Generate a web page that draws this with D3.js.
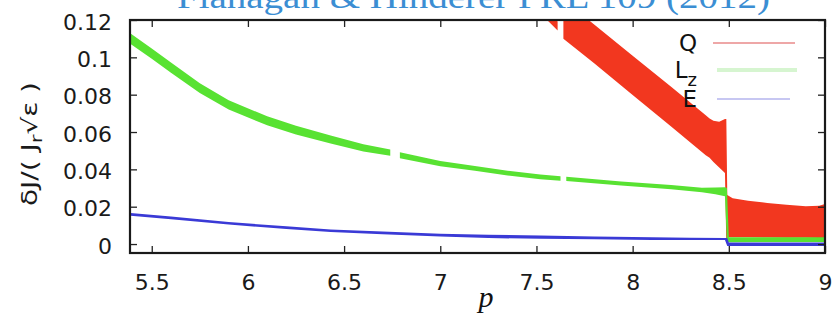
<!DOCTYPE html>
<html><head><meta charset="utf-8">
<script src="https://cdn.jsdelivr.net/npm/d3@7"></script>
<style>html,body{margin:0;padding:0;background:#fff;} svg{display:block}</style>
</head><body><svg id="c" width="836" height="320"></svg>
<script>
// ---- data ----
const xTicks = [5.5, 6, 6.5, 7, 7.5, 8, 8.5, 9];
const xTickLabels = ["5.5", "6", "6.5", "7", "7.5", "8", "8.5", "9"];
const yTicks = [0, 0.02, 0.04, 0.06, 0.08, 0.1, 0.12];
const yTickLabels = ["0", "0.02", "0.04", "0.06", "0.08", "0.1", "0.12"];
const seriesNames = ["Q", "L", "E"];
const titleText = "Flanagan & Hinderer PRL 109 (2012)";

// Q: envelope (upper / lower) of the oscillating curve
const qP  = [7.550, 7.575, 7.610, 7.620, 7.640, 7.800, 8.000, 8.200, 8.380, 8.400, 8.420, 8.450, 8.480, 8.487, 8.492, 8.520, 8.600, 8.700, 8.800, 8.900, 8.970, 9.000];
const qHi = [0.130, 0.130, 0.119, null, 0.131, 0.1176, 0.1009, 0.0842, 0.0690, 0.0672, 0.0660, 0.0655, 0.0670, 0.0670, 0.0262, 0.0245, 0.0232, 0.0220, 0.0210, 0.0203, 0.0205, 0.0215];
const qLo = [0.1205, 0.1180, 0.1144, null, 0.1100, 0.0968, 0.0798, 0.0629, 0.0476, 0.0462, 0.0440, 0.0410, 0.0380, 0.0000, 0.0037, 0.0037, 0.0036, 0.0035, 0.0034, 0.0034, 0.0033, 0.0033];

// Lz envelope
const lzP  = [5.39, 5.50, 5.60, 5.75, 5.90, 6.10, 6.25, 6.43, 6.60, 6.74, 6.765, 6.79, 7.00, 7.18, 7.35, 7.52, 7.625, 7.64, 7.655, 7.94, 8.20, 8.36, 8.43, 8.48, 8.490, 8.500, 8.700, 9.000];
const lzHi = [0.1128, 0.1048, 0.0972, 0.0861, 0.0770, 0.0684, 0.0633, 0.0581, 0.0534, 0.0507, null, 0.0491, 0.0445, 0.0418, 0.0393, 0.0373, 0.0363, null, 0.0361, 0.0335, 0.0316, 0.0302, 0.0303, 0.0304, 0.0300, 0.0037, 0.0037, 0.0037];
const lzLo = [0.1072, 0.0992, 0.0918, 0.0809, 0.0720, 0.0636, 0.0587, 0.0539, 0.0496, 0.0473, null, 0.0459, 0.0417, 0.0392, 0.0367, 0.0347, 0.0339, null, 0.0337, 0.0313, 0.0294, 0.0278, 0.0267, 0.0256, 0.0010, 0.0010, 0.0011, 0.0011];

// E envelope
const eP  = [5.39, 5.60, 5.90, 6.20, 6.43, 6.70, 7.00, 7.25, 7.52, 7.80, 8.10, 8.30, 8.48, 8.492, 8.50, 8.70, 9.00];
const eHi = [0.0166, 0.0147, 0.0118, 0.0095, 0.0078, 0.0067, 0.0055, 0.0050, 0.0046, 0.0041, 0.0036, 0.0034, 0.0033, 0.0033, 0.0008, 0.0008, 0.0008];
const eLo = [0.0152, 0.0133, 0.0104, 0.0081, 0.0064, 0.0053, 0.0041, 0.0032, 0.0028, 0.0025, 0.0022, 0.0022, 0.0021, -0.0010, -0.0010, -0.0010, -0.0010];

// ---- layout ----
const W = 836, H = 320;
const L = 130, R = 825, T = 20, B = 253;
const svg = d3.select("#c");
const x = d3.scaleLinear().domain([5.387, 9.0]).range([L, R]);
const y = d3.scaleLinear().domain([-0.0048, 0.12]).range([B, T]);

svg.append("defs").append("clipPath").attr("id", "clip")
  .append("rect").attr("x", L).attr("y", T).attr("width", R - L).attr("height", B - T);

const band = (P, Hi, Lo) => P.map((p, i) => ({p, hi: Hi[i], lo: Lo[i]}));
const area = d3.area()
  .defined(d => d.hi !== null && d.lo !== null)
  .x(d => x(d.p)).y0(d => y(d.lo)).y1(d => y(d.hi));

const g = svg.append("g").attr("clip-path", "url(#clip)");
g.append("path").datum(band(qP, qHi, qLo)).attr("d", area).attr("fill", "#f2371f");
g.append("path").datum(band(lzP, lzHi, lzLo)).attr("d", area).attr("fill", "#58e232");
g.append("path").datum(band(eP, eHi, eLo)).attr("d", area).attr("fill", "#3a3ad6");

// ---- axes ----
const font = "'DejaVu Sans', sans-serif";
const ax = svg.append("g").attr("transform", `translate(0,${B})`)
  .call(d3.axisBottom(x).tickValues(xTicks).tickFormat((d, i) => xTickLabels[i])
    .tickSizeInner(-7).tickSizeOuter(0).tickPadding(21));
const ay = svg.append("g").attr("transform", `translate(${L},0)`)
  .call(d3.axisLeft(y).tickValues(yTicks).tickFormat((d, i) => yTickLabels[i])
    .tickSizeInner(-7).tickSizeOuter(0).tickPadding(18));
const axT = svg.append("g").attr("transform", `translate(0,${T})`)
  .call(d3.axisTop(x).tickValues(xTicks).tickFormat("").tickSizeInner(-7).tickSizeOuter(0));
const ayR = svg.append("g").attr("transform", `translate(${R},0)`)
  .call(d3.axisRight(y).tickValues(yTicks).tickFormat("").tickSizeInner(-7).tickSizeOuter(0));
[ax, ay, axT, ayR].forEach(a => {
  a.select(".domain").remove();
  a.selectAll(".tick line").attr("stroke", "#222").attr("stroke-width", 1.3);
  a.selectAll("text").attr("font-family", font).attr("font-size", 22).attr("fill", "#1a1a1a");
});
ay.selectAll("text").attr("dy", "0.41em");

svg.append("rect").attr("x", L).attr("y", T).attr("width", R - L).attr("height", B - T)
  .attr("fill", "none").attr("stroke", "#1a1a1a").attr("stroke-width", 2.2);

// ---- legend ----
const lg = svg.append("g").attr("font-family", font).attr("font-size", 23).attr("fill", "#111");
lg.append("text").attr("x", 697).attr("y", 51).attr("text-anchor", "end").text(seriesNames[0]);
const lt = lg.append("text").attr("x", 697).attr("y", 78).attr("text-anchor", "end");
lt.append("tspan").text(seriesNames[1]);
lt.append("tspan").attr("font-size", 18).attr("dy", 8).text("z");
lg.append("text").attr("x", 697).attr("y", 107).attr("text-anchor", "end").text(seriesNames[2]);
lg.append("line").attr("x1", 713).attr("x2", 795).attr("y1", 43).attr("y2", 43).attr("stroke", "#e98a8a").attr("stroke-width", 1.6);
lg.append("line").attr("x1", 717).attr("x2", 797).attr("y1", 70).attr("y2", 70).attr("stroke", "#d6f5d0").attr("stroke-width", 4);
lg.append("line").attr("x1", 717).attr("x2", 790).attr("y1", 99).attr("y2", 99).attr("stroke", "#b4b4ee").attr("stroke-width", 1.6);

// ---- labels ----
const yl = svg.append("text").attr("transform", "translate(37,144) rotate(-90)")
  .attr("text-anchor", "middle").attr("font-family", font).attr("font-size", 21).attr("fill", "#1a1a1a")
  .attr("textLength", 124).attr("lengthAdjust", "spacingAndGlyphs");
yl.append("tspan").text("δJ/( J");
yl.append("tspan").attr("font-size", 16).attr("dy", 5).text("r");
yl.append("tspan").attr("dy", -5).text("√ε )");

svg.append("text").attr("x", 486).attr("y", 307).attr("text-anchor", "middle")
  .attr("font-family", "'Liberation Serif', serif").attr("font-style", "italic").attr("font-size", 30)
  .attr("fill", "#111").text("p");

svg.append("text").attr("x", 177).attr("y", 8).attr("textLength", 593).attr("lengthAdjust", "spacingAndGlyphs")
  .attr("font-family", "'Liberation Serif', serif").attr("font-size", 34).attr("fill", "#3b8ed3").text(titleText);
</script></body></html>
